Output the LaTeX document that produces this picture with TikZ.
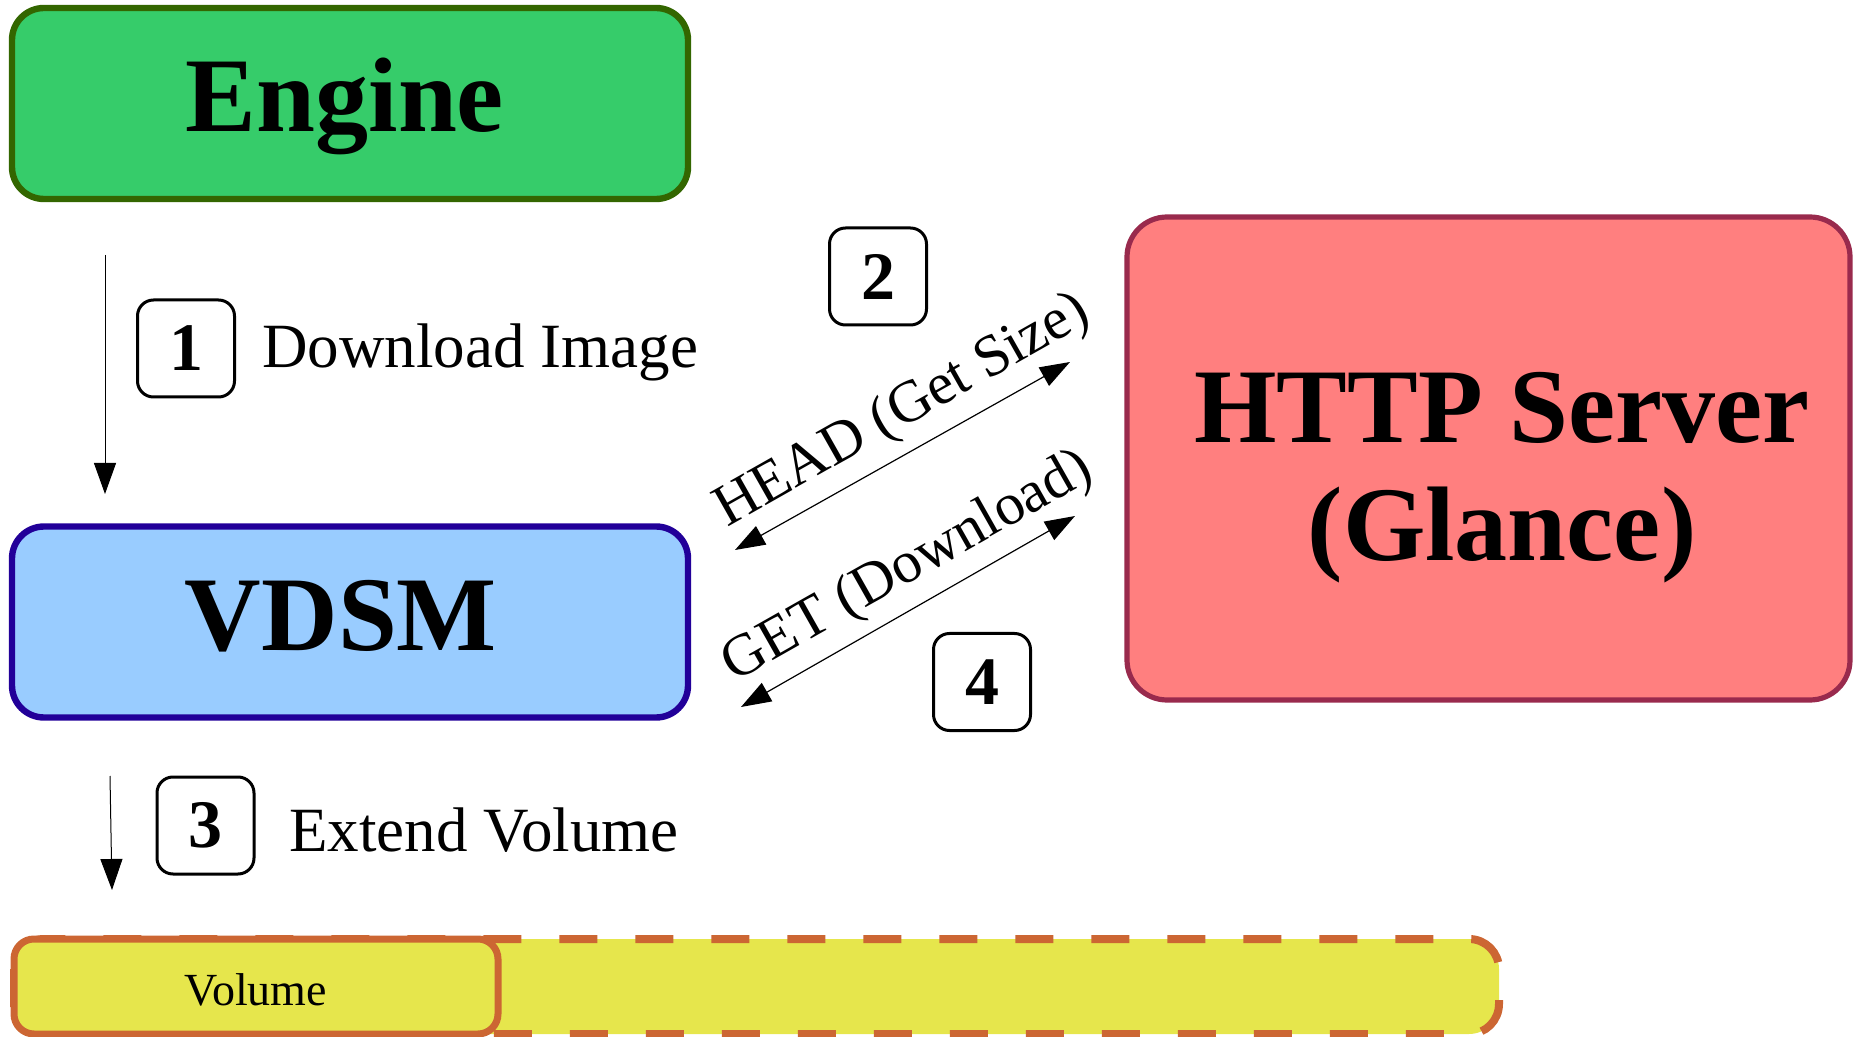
\documentclass[tikz,border=0pt]{standalone}
\usepackage{fontspec}
\setmainfont{Liberation Serif}
\usetikzlibrary{arrows.meta}
\definecolor{enginefill}{HTML}{36CC6A}
\definecolor{engineline}{HTML}{336600}
\definecolor{vdsmfill}{HTML}{99CCFF}
\definecolor{vdsmline}{HTML}{220099}
\definecolor{httpfill}{HTML}{FF7F7F}
\definecolor{httpline}{HTML}{992A4D}
\definecolor{volfill}{HTML}{E6E64C}
\definecolor{volline}{HTML}{CC6633}
\begin{document}
\begin{tikzpicture}[x=0.5pt,y=-0.5pt,
  bigbox/.style={draw, line width=3.2pt, rounded corners=16pt, inner sep=0pt, minimum width=338pt, minimum height=95.5pt},
  numbox/.style={draw=black, fill=white, line width=1.5pt, rounded corners=8pt, inner sep=0pt,
     minimum width=48.5pt, minimum height=48.5pt, font=\fontsize{34}{40}\selectfont\bfseries},
  bigtext/.style={font=\fontsize{53}{60}\selectfont\bfseries, inner sep=0pt, anchor=base},
  steptext/.style={font=\fontsize{31.5}{36}\selectfont, inner sep=0pt, anchor=base west},
  flowarrow/.style={line width=0.5pt, -{Triangle[length=15.5pt,width=11pt]}},
  reqarrow/.style={line width=0.6pt, {Triangle[length=15pt,width=10.5pt]}-{Triangle[length=15pt,width=10.5pt]}},
  reqtext/.style={font=\fontsize{29.5}{34}\selectfont, inner sep=0pt, anchor=base, rotate=29.5}]

\useasboundingbox (0,0) rectangle (1854,1037);

% main boxes
\node[bigbox, draw=engineline, fill=enginefill] (engine) at (350,103.5) {};
\node[bigtext] (enginetext) at (345,132) {Engine};

\node[bigbox, draw=vdsmline, fill=vdsmfill] (vdsm) at (350,622) {};
\node[bigtext] (vdsmtext) at (341,650) {VDSM};

\node[draw=httpline, fill=httpfill, line width=2.6pt, rounded corners=20pt, inner sep=0pt,
      minimum width=361.5pt, minimum height=241.5pt] (http) at (1488.5,458.5) {};
\node[bigtext] (httptext1) at (1502,443) {HTTP Server};
\node[bigtext] (httptext2) at (1502,560) {(Glance)};

% volume
\draw[draw=volline, fill=volfill, line width=4pt, rounded corners=15pt, dash pattern=on 19pt off 19pt]
  (14,939) rectangle (1499,1034);
\node[draw=volline, fill=volfill, line width=3.5pt, rounded corners=10pt, inner sep=0pt,
      minimum width=242pt, minimum height=47.5pt] (volume) at (256,986.5) {};
\node[font=\fontsize{23}{28}\selectfont, inner sep=0pt, anchor=base] (voltext) at (256,1005) {Volume};

% step 1
\coordinate (a1s) at (105,255);
\coordinate (a1e) at (105,494);
\draw[flowarrow] (a1s) -- (a1e);
\node[numbox] (n1) at (186,348.5) {1};
\node[steptext] (t1) at (262,368) {Download Image};

% step 3
\coordinate (a3s) at (110,776);
\coordinate (a3e) at (112,890);
\draw[flowarrow] (a3s) -- (a3e);
\node[numbox] (n3) at (205.5,825.5) {3};
\node[steptext] (t3) at (289,851) {Extend Volume};

% step 2 and 4
\node[numbox] (n2) at (878,276.5) {2};
\node[numbox] (n4) at (982,682) {4};

\coordinate (h1) at (735,550);
\coordinate (h2) at (1070,362);
\draw[reqarrow] (h1) -- (h2);
\node[reqtext] (lhead) at (910,424) {HEAD (Get Size)};

\coordinate (g1) at (741,707);
\coordinate (g2) at (1075,516);
\draw[reqarrow] (g1) -- (g2);
\node[reqtext] (lget) at (915,580) {GET (Download)};
\end{tikzpicture}
\end{document}
